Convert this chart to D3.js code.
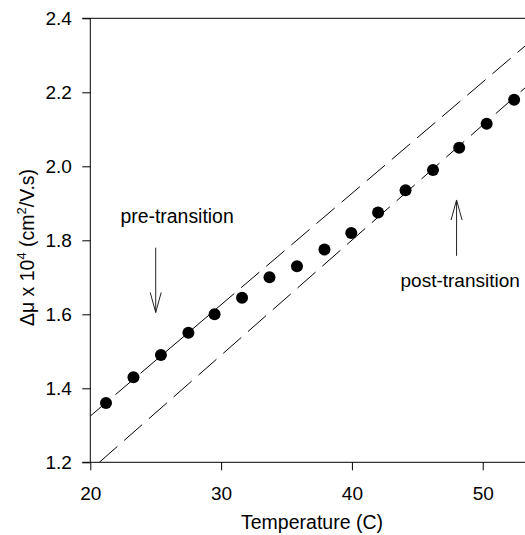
<!DOCTYPE html>
<html>
<head>
<meta charset="utf-8">
<script src="https://cdn.jsdelivr.net/npm/d3@7"></script>
<style>
	body { margin: 0; background: #fff; }
	text { font-family: "Liberation Sans", Arial, sans-serif; fill: #000; }
</style>
</head>
<body>
<script>
// measured points (temperature in C, mobility difference x 10^4)
const temps = [21.2, 23.3, 25.4, 27.5, 29.5, 31.6, 33.7, 35.8, 37.9, 39.95, 42.0, 44.1, 46.2, 48.2, 50.3, 52.4];
const mobility = [1.36, 1.43, 1.49, 1.55, 1.60, 1.645, 1.70, 1.73, 1.775, 1.82, 1.875, 1.935, 1.99, 2.05, 2.115, 2.18];

// fitted lines, end points
const preFitX = [20, 53.3];
const preFitY = [1.325, 2.327];
const postFitX = [20.69, 53.3];
const postFitY = [1.2, 2.214];

const xTicks = [20, 30, 40, 50];
const yTicks = [1.2, 1.4, 1.6, 1.8, 2.0, 2.2, 2.4];

// arrows: [x, from, to]
const preArrow = [25, 1.78, 1.605];
const postArrow = [48, 1.758, 1.909];

var width = 525,
	height = 535;

let svg = d3.select("body").append("svg")
	.attr("width", width)
	.attr("height", height);

let x = d3.scaleLinear().domain([20, 53.3]).range([90.3, 525.9]);
let y = d3.scaleLinear().domain([1.2, 2.4]).range([462.3, 18.3]);

svg.append("clipPath").attr("id", "plot")
	.append("rect")
	.attr("x", x(20)).attr("y", y(2.4))
	.attr("width", x(53.3) - x(20)).attr("height", y(1.2) - y(2.4));

// axes
let xAxis = d3.axisBottom(x).tickValues(xTicks).tickSize(8).tickPadding(16).tickFormat(d3.format("d"));
let yAxis = d3.axisLeft(y).tickValues(yTicks).tickSize(8).tickPadding(10.5).tickFormat(d3.format(".1f"));

let xg = svg.append("g")
	.attr("transform", "translate(0," + y(1.2) + ")")
	.call(xAxis);
let yg = svg.append("g")
	.attr("transform", "translate(" + x(20) + ",0)")
	.call(yAxis);

[xg, yg].forEach(g => {
	g.select(".domain").remove();
	g.selectAll("line").attr("stroke", "#000");
	g.selectAll("text").attr("font-size", 19).attr("font-family", "Liberation Sans, Arial, sans-serif");
});

// frame lines
svg.append("line").attr("x1", x(20) - 8).attr("x2", width).attr("y1", y(1.2)).attr("y2", y(1.2)).attr("stroke", "#000");
svg.append("line").attr("x1", x(20) - 8).attr("x2", width).attr("y1", y(2.4)).attr("y2", y(2.4)).attr("stroke", "#000");
svg.append("line").attr("x1", x(20)).attr("x2", x(20)).attr("y1", y(2.4)).attr("y2", y(1.2)).attr("stroke", "#000");

// fit lines
let line = d3.line().x(d => x(d[0])).y(d => y(d[1]));
let fits = svg.append("g").attr("clip-path", "url(#plot)");
fits.append("path")
	.attr("d", line(d3.zip(preFitX, preFitY)))
	.attr("fill", "none").attr("stroke", "#000").attr("stroke-width", 1)
	.attr("stroke-dasharray", "24,9");
fits.append("path")
	.attr("d", line(d3.zip(postFitX, postFitY)))
	.attr("fill", "none").attr("stroke", "#000").attr("stroke-width", 1)
	.attr("stroke-dasharray", "24,9");

// points
svg.selectAll("circle.pt")
	.data(d3.zip(temps, mobility))
	.enter()
	.append("circle")
	.attr("class", "pt")
	.attr("cx", d => x(d[0]))
	.attr("cy", d => y(d[1]))
	.attr("r", 6)
	.attr("fill", "#000");

// arrows with open heads
function arrow(a) {
	let ax = x(a[0]), y0 = y(a[1]), y1 = y(a[2]);
	let dir = y1 > y0 ? -1 : 1;
	let g = svg.append("g").attr("stroke", "#222").attr("fill", "none").attr("stroke-width", 1);
	g.append("line").attr("x1", ax).attr("x2", ax).attr("y1", y0).attr("y2", y1);
	g.append("path").attr("d", "M" + (ax - 5.5) + "," + (y1 + dir * 20) + "L" + ax + "," + y1 + "L" + (ax + 5.5) + "," + (y1 + dir * 20));
}
arrow(preArrow);
arrow(postArrow);

svg.append("text").attr("x", 120.5).attr("y", 223).attr("font-size", 19.4).text("pre-transition");
svg.append("text").attr("x", 400.5).attr("y", 287).attr("font-size", 19).text("post-transition");

// axis titles
svg.append("text")
	.attr("x", 312).attr("y", 528.5)
	.attr("text-anchor", "middle")
	.attr("font-size", 19.5)
	.text("Temperature (C)");

let yt = svg.append("text")
	.attr("transform", "translate(33.5,247.5)rotate(-90)")
	.attr("text-anchor", "middle")
	.attr("font-size", 19.5);
yt.append("tspan").text("\u0394\u03bc x 10");
yt.append("tspan").attr("dy", -8).attr("font-size", 13).text("4");
yt.append("tspan").attr("dy", 8).text(" (cm");
yt.append("tspan").attr("dy", -8).attr("font-size", 13).text("2");
yt.append("tspan").attr("dy", 8).text("/V.s)");
</script>
</body>
</html>
